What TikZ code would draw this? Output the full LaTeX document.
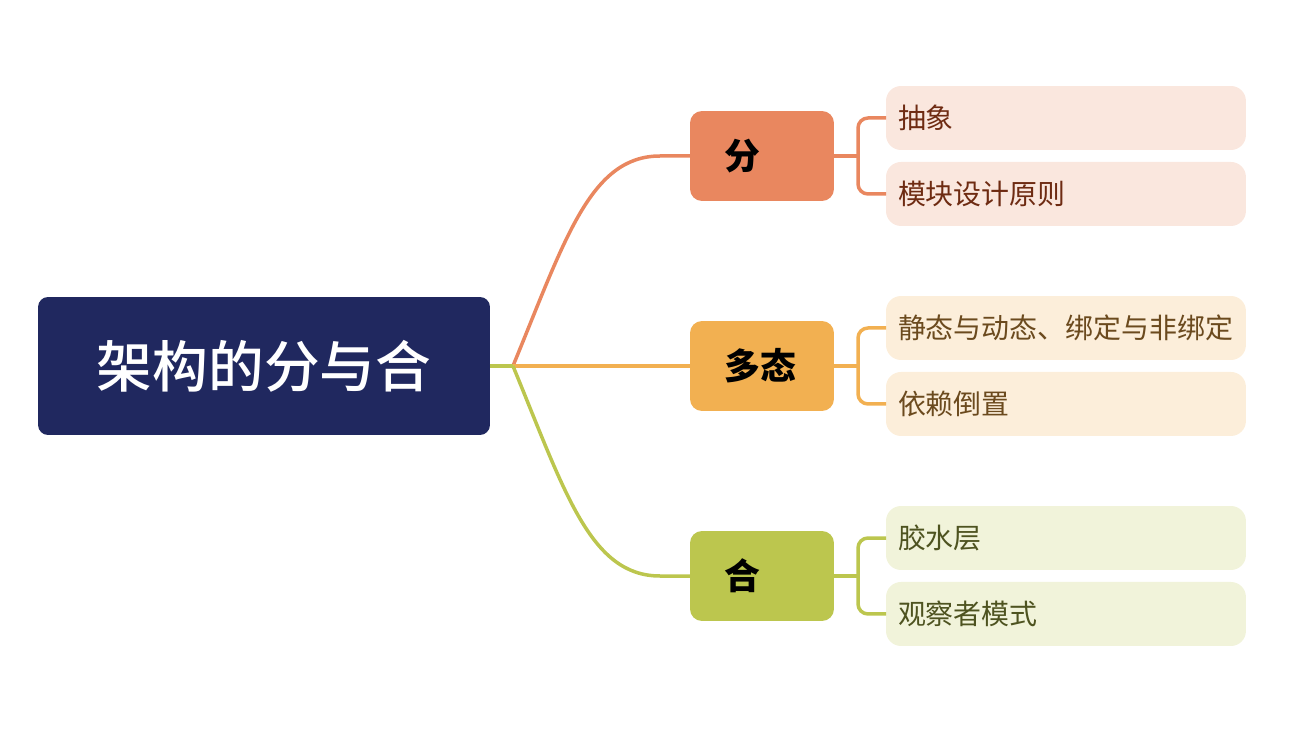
\documentclass[tikz,border=0pt]{standalone}
\usepackage{fontspec}
\usepackage{tikz}
\usetikzlibrary{positioning}
\newfontfamily\cjk{Noto Sans CJK SC}
\newfontfamily\cjkmed{Noto Sans CJK SC}[UprightFont=* Medium]
\definecolor{rootblue}{HTML}{20285F}
\definecolor{fencol}{HTML}{E9875F}
\definecolor{fenfill}{HTML}{FAE7DE}
\definecolor{fentext}{HTML}{6E2B12}
\definecolor{duocol}{HTML}{F2B051}
\definecolor{duofill}{HTML}{FCEEDA}
\definecolor{duotext}{HTML}{6B4A1E}
\definecolor{hecol}{HTML}{BCC64E}
\definecolor{hefill}{HTML}{F1F3DA}
\definecolor{hetext}{HTML}{4E5320}

\begin{document}
\begin{tikzpicture}[x=0.02cm, y=-0.02cm,
  rootbox/.style={fill=rootblue, text=white, rounded corners=0.2cm, minimum width=9.04cm, minimum height=2.76cm, outer sep=0, font=\cjkmed\fontsize{31.7}{36}\selectfont},
  branch/.style={rounded corners=0.24cm, text width=1.5cm, align=left, inner xsep=0.69cm, minimum height=1.8cm, outer sep=0, font=\cjk\bfseries\fontsize{20.4}{24}\selectfont},
  leaf/.style={rounded corners=0.3cm, text width=6.72cm, align=left, inner xsep=0.24cm, inner ysep=0pt, minimum height=1.28cm, outer sep=0, font=\cjk\fontsize{15.9}{19}\selectfont},
  link/.style={line width=0.07cm}
]
\useasboundingbox (0,0) rectangle (1308,746);

\node[rootbox] (root) at (264,366) {架构的分与合};

\node[branch, fill=fencol] (fen) at (762,156) {分};
\node[branch, fill=duocol] (duotai) at (762,366) {多态};
\node[branch, fill=hecol] (he) at (762,576) {合};

\node[leaf, fill=fenfill, text=fentext, anchor=west] (chouxiang) at (886,118) {抽象};
\node[leaf, fill=fenfill, text=fentext, below=0.24cm of chouxiang] (mokuai) {模块设计原则};
\node[leaf, fill=duofill, text=duotext, anchor=west] (jingdong) at (886,328) {静态与动态、绑定与非绑定};
\node[leaf, fill=duofill, text=duotext, below=0.24cm of jingdong] (yilai) {依赖倒置};
\node[leaf, fill=hefill, text=hetext, anchor=west] (jiaoshui) at (886,538) {胶水层};
\node[leaf, fill=hefill, text=hetext, below=0.24cm of jiaoshui] (guancha) {观察者模式};

% root to branches
\coordinate (jn) at ([xshift=0.46cm]root.east);
\draw[link, fencol] (jn) .. controls +(52,-126) and +(-70,0) .. ([xshift=-0.6cm]fen.west) -- (fen.west);
\draw[link, duocol] (jn) -- (duotai.west);
\draw[link, hecol] (jn) .. controls +(52,126) and +(-70,0) .. ([xshift=-0.6cm]he.west) -- (he.west);
\draw[link, hecol] (root.east) -- (jn);

% branches to leaves
\draw[link, fencol] (fen.east) -- ++(24,0);
\draw[link, fencol, rounded corners=0.2cm] (chouxiang.west) -- ++(-28,0) |- (mokuai.west);
\draw[link, duocol] (duotai.east) -- ++(24,0);
\draw[link, duocol, rounded corners=0.2cm] (jingdong.west) -- ++(-28,0) |- (yilai.west);
\draw[link, hecol] (he.east) -- ++(24,0);
\draw[link, hecol, rounded corners=0.2cm] (jiaoshui.west) -- ++(-28,0) |- (guancha.west);
\end{tikzpicture}
\end{document}
